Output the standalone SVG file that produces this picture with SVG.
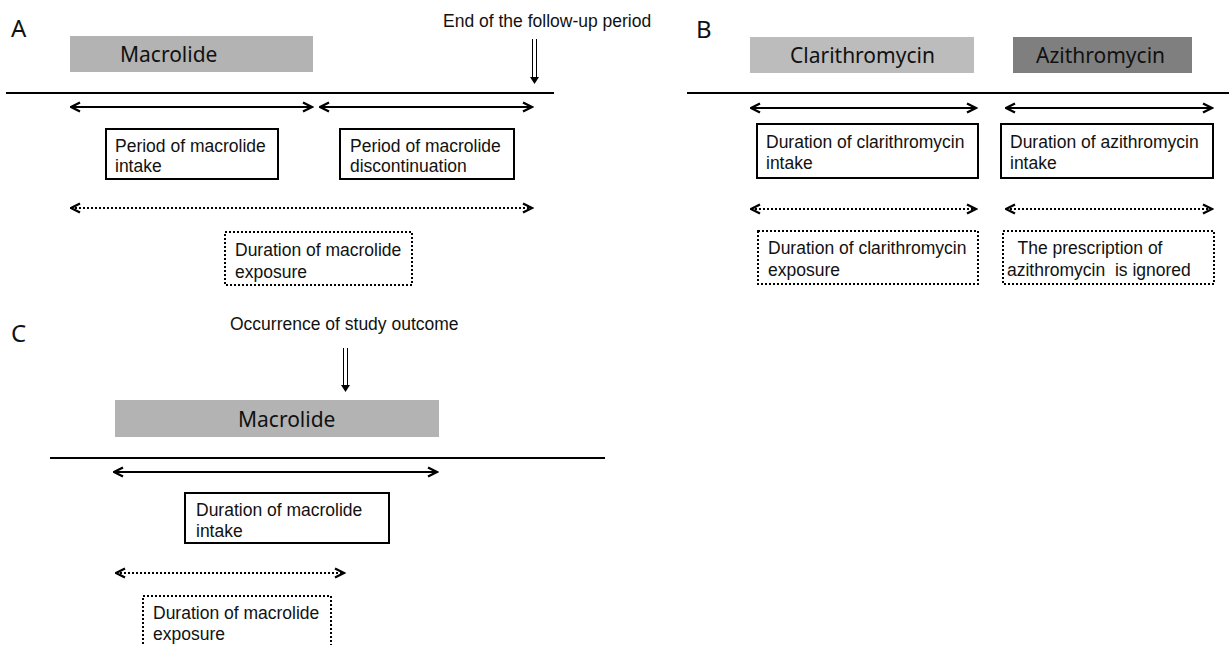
<svg xmlns="http://www.w3.org/2000/svg" width="1229" height="645" viewBox="0 0 1229 645">
<defs>
<style>
.bg{fill:#ffffff}
.lab{font-family:"Noto Sans","Open Sans",sans-serif;font-size:24px;fill:#111}
.drug{font-family:"Noto Sans","Open Sans",sans-serif;font-size:21px;fill:#111}
.t{font-family:"Liberation Sans",Arial,sans-serif;font-size:17.5px;fill:#111}
.axis{stroke:#000;stroke-width:2.2;fill:none}
.arr{stroke:#000;stroke-width:2;fill:none;marker-start:url(#hs);marker-end:url(#he)}
.darr{stroke:#000;stroke-width:2;stroke-dasharray:2 2;fill:none;marker-start:url(#hs);marker-end:url(#he)}
.box{fill:#fff;stroke:#000;stroke-width:2}
.dbox{fill:#fff;stroke:#000;stroke-width:2;stroke-dasharray:2 2}
.g1{fill:#b3b3b3}
.g2{fill:#bcbcbc}
.g3{fill:#7f7f7f}
.thin{stroke:#000;stroke-width:1;fill:none}
</style>
<marker id="he" viewBox="0 0 12 12" refX="10.5" refY="6" markerWidth="6" markerHeight="6" orient="auto" markerUnits="strokeWidth">
<path d="M1.5,1.5 L10.5,6 L1.5,10.5" fill="none" stroke="#000" stroke-width="2.4"/>
</marker>
<marker id="hs" viewBox="0 0 12 12" refX="1.5" refY="6" markerWidth="6" markerHeight="6" orient="auto" markerUnits="strokeWidth">
<path d="M10.5,1.5 L1.5,6 L10.5,10.5" fill="none" stroke="#000" stroke-width="2.4"/>
</marker>
</defs>
<rect class="bg" x="0" y="0" width="1229" height="645"/>

<!-- Panel A -->
<g id="panelA">
<text class="lab" x="11" y="37">A</text>
<g id="A-macrolide"><rect class="g1" x="70" y="36" width="243" height="36"/><text class="drug" x="120" y="62">Macrolide</text></g>
<g id="A-end"><text class="t" x="443" y="27">End of the follow-up period</text>
<path class="thin" d="M532.5,39 V78 M536.5,39 V78"/><path d="M530,77 L534.5,84 L539,77 Z" fill="#000"/></g>
<g id="A-intake"><rect class="box" x="106" y="129" width="172" height="50"/><text class="t" x="115" y="152">Period of macrolide</text><text class="t" x="115" y="172">intake</text></g>
<g id="A-disc"><rect class="box" x="340" y="129" width="174" height="50"/><text class="t" x="350" y="152">Period of macrolide</text><text class="t" x="350" y="172">discontinuation</text></g>
<g id="A-exp"><rect class="dbox" x="225" y="232" width="187" height="53"/><text class="t" x="235" y="256">Duration of macrolide</text><text class="t" x="235" y="278">exposure</text></g>
</g>

<!-- Panel B -->
<g id="panelB">
<text class="lab" x="696" y="38">B</text>
<g id="B-clar"><rect class="g2" x="750" y="37" width="224" height="36"/><text class="drug" x="790" y="63">Clarithromycin</text></g>
<g id="B-azi"><rect class="g3" x="1013" y="37" width="179" height="36"/><text class="drug" x="1036" y="63">Azithromycin</text></g>
<g id="B-clarint"><rect class="box" x="757" y="124" width="221" height="54"/><text class="t" x="766" y="148">Duration of clarithromycin</text><text class="t" x="766" y="169">intake</text></g>
<g id="B-aziint"><rect class="box" x="1001" y="124" width="212" height="54"/><text class="t" x="1010" y="148">Duration of azithromycin</text><text class="t" x="1010" y="169">intake</text></g>
<g id="B-clarexp"><rect class="dbox" x="758" y="231" width="220" height="53"/><text class="t" x="768" y="254">Duration of clarithromycin</text><text class="t" x="768" y="276">exposure</text></g>
<g id="B-ign"><rect class="dbox" x="1003" y="231" width="211" height="53"/><text class="t" x="1013" y="254" xml:space="preserve"> The prescription of</text><text class="t" x="1007" y="276" xml:space="preserve">azithromycin  is ignored</text></g>
</g>

<!-- Panel C -->
<g id="panelC">
<text class="lab" x="11" y="342">C</text>
<g id="C-out"><text class="t" x="230" y="330">Occurrence of study outcome</text>
<path class="thin" d="M343.5,348 V386 M347.5,348 V386"/><path d="M341,385 L345.5,392 L350,385 Z" fill="#000"/></g>
<g id="C-macrolide"><rect class="g1" x="115" y="400" width="324" height="37"/><text class="drug" x="238" y="427">Macrolide</text></g>
<g id="C-intake"><rect class="box" x="185" y="493" width="204" height="50"/><text class="t" x="196" y="516">Duration of macrolide</text><text class="t" x="196" y="537">intake</text></g>
<g id="C-exp"><rect class="dbox" x="143" y="596" width="188" height="52"/><text class="t" x="153" y="619">Duration of macrolide</text><text class="t" x="153" y="640">exposure</text></g>
</g>

<!-- connectors -->
<g id="connectors">
<path class="axis" d="M6,93 H554"/>
<path class="axis" d="M687,93 H1229"/>
<path class="axis" d="M50,458 H605"/>
<path class="arr" d="M71,107 H312"/>
<path class="arr" d="M320,107 H532"/>
<path class="darr" d="M71,208 H532"/>
<path class="arr" d="M751,108 H976"/>
<path class="arr" d="M1006,108 H1212"/>
<path class="darr" d="M751,209 H976"/>
<path class="darr" d="M1006,209 H1212"/>
<path class="arr" d="M114,472 H437"/>
<path class="darr" d="M116,573 H344"/>
</g>
</svg>
